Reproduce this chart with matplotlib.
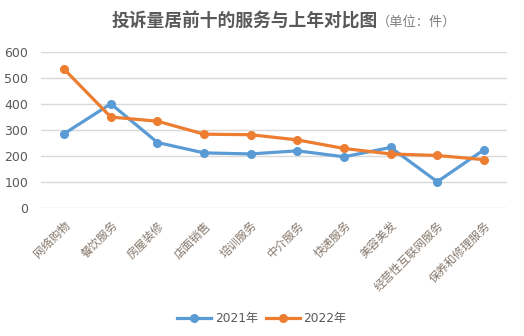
import matplotlib.pyplot as plt

plt.rcParams['font.family'] = ['Noto Sans CJK SC', 'DejaVu Sans']

# --- Data ---
categories = ['网络购物', '餐饮服务', '房屋装修', '店面销售', '培训服务',
              '中介服务', '快递服务', '美容美发', '经营性互联网服务', '保养和修理服务']
values_2021 = [286, 401, 252, 212, 208, 220, 197, 233, 101, 224]
values_2022 = [534, 350, 334, 284, 282, 262, 229, 208, 202, 186]
series_names = ['2021年', '2022年']
y_ticks = [0, 100, 200, 300, 400, 500, 600]

BLUE = '#5B9BD5'
ORANGE = '#ED7D31'
GRAY = '#595959'

fig = plt.figure(figsize=(5.24, 3.36), dpi=100)
ax = fig.add_axes([0.078, 0.381, 0.89, 0.464])

x = range(len(categories))
ax.plot(x, values_2021, color=BLUE, lw=2.3, marker='o', ms=5.5, label=series_names[0])
ax.plot(x, values_2022, color=ORANGE, lw=2.3, marker='o', ms=5.5, label=series_names[1])

ax.set_xlim(-0.5, len(categories) - 0.5)
ax.set_ylim(0, 600)
ax.set_yticks(y_ticks)
ax.yaxis.grid(True, color='#D9D9D9', lw=1)
ax.set_axisbelow(True)
for s in ax.spines.values():
    s.set_visible(False)
ax.tick_params(axis='both', length=0)
ax.tick_params(axis='y', labelcolor=GRAY, pad=9)
for lbl in ax.get_yticklabels():
    lbl.set_fontfamily('DejaVu Sans')
    lbl.set_fontsize(9)

ax.set_xticks(list(x))
ax.set_xticklabels(categories, rotation=45, ha='right', rotation_mode='anchor',
                   fontsize=8.3, color='#85766A')
ax.tick_params(axis='x', pad=8)

# title
fig.text(378 / 524, 0.935, '投诉量居前十的服务与上年对比图', ha='right', va='center',
         fontsize=12.8, fontweight='bold', color=GRAY)
fig.text(377 / 524, 0.935, '（单位：件）', ha='left', va='center',
         fontsize=9.5, color='#7F7F7F')

fig.legend(loc='lower center', bbox_to_anchor=(0.5, 0.0), ncol=2, frameon=False,
           labelcolor=GRAY, handlelength=2.8, handletextpad=0.3, columnspacing=0.6,
           prop={'family': ['DejaVu Sans', 'Noto Sans CJK SC'], 'size': 8.8})

fig.savefig('out.png', dpi=100)
